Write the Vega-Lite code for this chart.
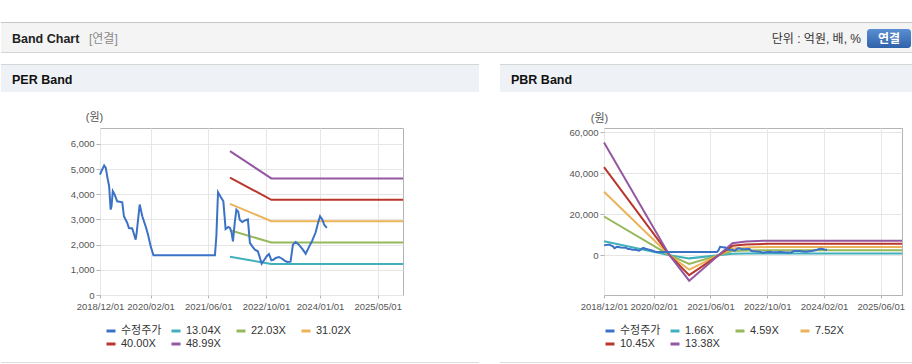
{
  "$schema": "https://vega.github.io/schema/vega-lite/v6.json",
  "background": "white",
  "padding": {"left": 0, "top": 22, "right": 0, "bottom": 0},
  "config": {
    "font": "Liberation Sans, Noto Sans CJK KR, sans-serif",
    "view": {"stroke": null},
    "axis": {"labelColor": "#555555", "labelFontSize": 9.5, "gridColor": "#e6e6e6", "tickColor": "#b4b4b4", "domain": false, "titleFontWeight": "normal", "titleColor": "#555555", "titleFontSize": 11}
  },
  "data": {"values": [{}]},
  "datasets": {
    "price": [
      {"series": "수정주가", "date": "2018-12-01", "value": 4780},
      {"series": "수정주가", "date": "2018-12-12", "value": 4910},
      {"series": "수정주가", "date": "2019-01-05", "value": 5140},
      {"series": "수정주가", "date": "2019-01-19", "value": 5046},
      {"series": "수정주가", "date": "2019-02-02", "value": 4650},
      {"series": "수정주가", "date": "2019-02-16", "value": 4318},
      {"series": "수정주가", "date": "2019-03-01", "value": 3390},
      {"series": "수정주가", "date": "2019-03-08", "value": 3520},
      {"series": "수정주가", "date": "2019-03-19", "value": 4120},
      {"series": "수정주가", "date": "2019-04-03", "value": 3990},
      {"series": "수정주가", "date": "2019-04-25", "value": 3720},
      {"series": "수정주가", "date": "2019-06-07", "value": 3680},
      {"series": "수정주가", "date": "2019-06-21", "value": 3125},
      {"series": "수정주가", "date": "2019-07-19", "value": 2860},
      {"series": "수정주가", "date": "2019-08-02", "value": 2660},
      {"series": "수정주가", "date": "2019-08-30", "value": 2640},
      {"series": "수정주가", "date": "2019-09-28", "value": 2200},
      {"series": "수정주가", "date": "2019-10-06", "value": 2460},
      {"series": "수정주가", "date": "2019-11-01", "value": 3590},
      {"series": "수정주가", "date": "2019-11-23", "value": 3125},
      {"series": "수정주가", "date": "2019-12-21", "value": 2730},
      {"series": "수정주가", "date": "2020-01-10", "value": 2400},
      {"series": "수정주가", "date": "2020-02-02", "value": 1930},
      {"series": "수정주가", "date": "2020-02-25", "value": 1576},
      {"series": "수정주가", "date": "2021-07-28", "value": 1576},
      {"series": "수정주가", "date": "2021-08-09", "value": 2330},
      {"series": "수정주가", "date": "2021-08-23", "value": 4080},
      {"series": "수정주가", "date": "2021-09-15", "value": 3890},
      {"series": "수정주가", "date": "2021-10-07", "value": 3720},
      {"series": "수정주가", "date": "2021-10-26", "value": 2620},
      {"series": "수정주가", "date": "2021-11-18", "value": 2700},
      {"series": "수정주가", "date": "2021-12-02", "value": 2660},
      {"series": "수정주가", "date": "2021-12-16", "value": 2460},
      {"series": "수정주가", "date": "2021-12-27", "value": 2130},
      {"series": "수정주가", "date": "2022-01-11", "value": 2860},
      {"series": "수정주가", "date": "2022-01-25", "value": 3390},
      {"series": "수정주가", "date": "2022-02-09", "value": 3320},
      {"series": "수정주가", "date": "2022-02-22", "value": 2990},
      {"series": "수정주가", "date": "2022-03-15", "value": 2900},
      {"series": "수정주가", "date": "2022-04-13", "value": 2970},
      {"series": "수정주가", "date": "2022-05-02", "value": 3000},
      {"series": "수정주가", "date": "2022-05-19", "value": 2070},
      {"series": "수정주가", "date": "2022-06-08", "value": 1930},
      {"series": "수정주가", "date": "2022-06-30", "value": 1800},
      {"series": "수정주가", "date": "2022-07-25", "value": 1735},
      {"series": "수정주가", "date": "2022-08-12", "value": 1470},
      {"series": "수정주가", "date": "2022-08-26", "value": 1245},
      {"series": "수정주가", "date": "2022-09-15", "value": 1380},
      {"series": "수정주가", "date": "2022-10-08", "value": 1540},
      {"series": "수정주가", "date": "2022-10-27", "value": 1630},
      {"series": "수정주가", "date": "2022-11-16", "value": 1380},
      {"series": "수정주가", "date": "2022-12-03", "value": 1400},
      {"series": "수정주가", "date": "2022-12-22", "value": 1470},
      {"series": "수정주가", "date": "2023-01-20", "value": 1510},
      {"series": "수정주가", "date": "2023-02-18", "value": 1430},
      {"series": "수정주가", "date": "2023-03-07", "value": 1365},
      {"series": "수정주가", "date": "2023-03-30", "value": 1310},
      {"series": "수정주가", "date": "2023-04-27", "value": 1325},
      {"series": "수정주가", "date": "2023-05-17", "value": 2000},
      {"series": "수정주가", "date": "2023-06-09", "value": 2105},
      {"series": "수정주가", "date": "2023-07-06", "value": 2000},
      {"series": "수정주가", "date": "2023-08-04", "value": 1830},
      {"series": "수정주가", "date": "2023-09-02", "value": 1640},
      {"series": "수정주가", "date": "2023-09-30", "value": 1910},
      {"series": "수정주가", "date": "2023-10-28", "value": 2170},
      {"series": "수정주가", "date": "2023-11-25", "value": 2490},
      {"series": "수정주가", "date": "2023-12-15", "value": 2860},
      {"series": "수정주가", "date": "2024-01-01", "value": 3125},
      {"series": "수정주가", "date": "2024-01-21", "value": 2990},
      {"series": "수정주가", "date": "2024-02-04", "value": 2795},
      {"series": "수정주가", "date": "2024-02-27", "value": 2660}
    ],
    "perBand": [
      {"series": "13.04X", "date": "2021-12-02", "value": 1520},
      {"series": "13.04X", "date": "2022-11-16", "value": 1232},
      {"series": "13.04X", "date": "2025-12-01", "value": 1232},
      {"series": "22.03X", "date": "2021-12-02", "value": 2569},
      {"series": "22.03X", "date": "2022-11-16", "value": 2082},
      {"series": "22.03X", "date": "2025-12-01", "value": 2082},
      {"series": "31.02X", "date": "2021-12-02", "value": 3617},
      {"series": "31.02X", "date": "2022-11-16", "value": 2931},
      {"series": "31.02X", "date": "2025-12-01", "value": 2931},
      {"series": "40.00X", "date": "2021-12-02", "value": 4664},
      {"series": "40.00X", "date": "2022-11-16", "value": 3780},
      {"series": "40.00X", "date": "2025-12-01", "value": 3780},
      {"series": "48.99X", "date": "2021-12-02", "value": 5712},
      {"series": "48.99X", "date": "2022-11-16", "value": 4630},
      {"series": "48.99X", "date": "2025-12-01", "value": 4630}
    ],
    "pbrBand": [
      {"series": "1.66X", "date": "2018-12-01", "value": 6823},
      {"series": "1.66X", "date": "2020-06-15", "value": 0},
      {"series": "1.66X", "date": "2020-12-01", "value": -1544},
      {"series": "1.66X", "date": "2021-12-07", "value": 725},
      {"series": "1.66X", "date": "2022-04-01", "value": 830},
      {"series": "1.66X", "date": "2022-10-01", "value": 880},
      {"series": "1.66X", "date": "2025-12-01", "value": 880},
      {"series": "4.59X", "date": "2018-12-01", "value": 18865},
      {"series": "4.59X", "date": "2020-06-15", "value": 0},
      {"series": "4.59X", "date": "2020-12-01", "value": -4269},
      {"series": "4.59X", "date": "2021-12-07", "value": 2006},
      {"series": "4.59X", "date": "2022-04-01", "value": 2295},
      {"series": "4.59X", "date": "2022-10-01", "value": 2433},
      {"series": "4.59X", "date": "2025-12-01", "value": 2433},
      {"series": "7.52X", "date": "2018-12-01", "value": 30907},
      {"series": "7.52X", "date": "2020-06-15", "value": 0},
      {"series": "7.52X", "date": "2020-12-01", "value": -6994},
      {"series": "7.52X", "date": "2021-12-07", "value": 3286},
      {"series": "7.52X", "date": "2022-04-01", "value": 3760},
      {"series": "7.52X", "date": "2022-10-01", "value": 3986},
      {"series": "7.52X", "date": "2025-12-01", "value": 3986},
      {"series": "10.45X", "date": "2018-12-01", "value": 42950},
      {"series": "10.45X", "date": "2020-06-15", "value": 0},
      {"series": "10.45X", "date": "2020-12-01", "value": -9719},
      {"series": "10.45X", "date": "2021-12-07", "value": 4567},
      {"series": "10.45X", "date": "2022-04-01", "value": 5225},
      {"series": "10.45X", "date": "2022-10-01", "value": 5539},
      {"series": "10.45X", "date": "2025-12-01", "value": 5539},
      {"series": "13.38X", "date": "2018-12-01", "value": 54992},
      {"series": "13.38X", "date": "2020-06-15", "value": 0},
      {"series": "13.38X", "date": "2020-12-01", "value": -12443},
      {"series": "13.38X", "date": "2021-12-07", "value": 5847},
      {"series": "13.38X", "date": "2022-04-01", "value": 6690},
      {"series": "13.38X", "date": "2022-10-01", "value": 7091},
      {"series": "13.38X", "date": "2025-12-01", "value": 7091}
    ]
  },
  "columns": 7,
  "spacing": 0,
  "bounds": "flush",
  "align": "each",
  "resolve": {"scale": {"color": "independent"}, "legend": {"color": "independent"}},
  "concat": [
    {"width": 99, "height": 31, "view": {"fill": "#f4f4f4", "stroke": null}, "layer": [
      {"mark": {"type": "rule", "color": "#c6c6c6"}, "encoding": {"y": {"value": 0.5}}},
      {"mark": {"type": "rule", "color": "#d4d4d4"}, "encoding": {"y": {"value": 30.5}}},
      {"mark": {"type": "text", "text": "Band Chart", "fontWeight": "bold", "fontSize": 12.5, "align": "left", "baseline": "middle", "color": "#222222"}, "encoding": {"x": {"value": 11}, "y": {"value": 17}}}
    ]},
    {"width": 303, "height": 31, "view": {"fill": "#f4f4f4", "stroke": null}, "layer": [
      {"mark": {"type": "rule", "color": "#c6c6c6"}, "encoding": {"y": {"value": 0.5}}},
      {"mark": {"type": "rule", "color": "#d4d4d4"}, "encoding": {"y": {"value": 30.5}}},
      {"mark": {"type": "text", "text": "[연결]", "fontSize": 12, "align": "left", "baseline": "middle", "color": "#8a8a8a"}, "encoding": {"x": {"value": -11}, "y": {"value": 17}}}
    ]},
    {"width": 76, "height": 31, "view": {"fill": "#f4f4f4", "stroke": null}, "layer": [
      {"mark": {"type": "rule", "color": "#c6c6c6"}, "encoding": {"y": {"value": 0.5}}},
      {"mark": {"type": "rule", "color": "#d4d4d4"}, "encoding": {"y": {"value": 30.5}}}
    ]},
    {"width": 21, "height": 31, "view": {"fill": "#f4f4f4", "stroke": null}, "layer": [
      {"mark": {"type": "rule", "color": "#c6c6c6"}, "encoding": {"y": {"value": 0.5}}},
      {"mark": {"type": "rule", "color": "#d4d4d4"}, "encoding": {"y": {"value": 30.5}}}
    ]},
    {"width": 104, "height": 31, "view": {"fill": "#f4f4f4", "stroke": null}, "layer": [
      {"mark": {"type": "rule", "color": "#c6c6c6"}, "encoding": {"y": {"value": 0.5}}},
      {"mark": {"type": "rule", "color": "#d4d4d4"}, "encoding": {"y": {"value": 30.5}}}
    ]},
    {"width": 298, "height": 31, "view": {"fill": "#f4f4f4", "stroke": null}, "layer": [
      {"mark": {"type": "rule", "color": "#c6c6c6"}, "encoding": {"y": {"value": 0.5}}},
      {"mark": {"type": "rule", "color": "#d4d4d4"}, "encoding": {"y": {"value": 30.5}}},
      {"mark": {"type": "text", "text": "단위 : 억원, 배, %", "fontSize": 12, "align": "right", "baseline": "middle", "color": "#333333"}, "encoding": {"x": {"value": 257}, "y": {"value": 17}}}
    ]},
    {"width": 11, "height": 31, "view": {"fill": "#f4f4f4", "stroke": null}, "layer": [
      {"mark": {"type": "rule", "color": "#c6c6c6"}, "encoding": {"y": {"value": 0.5}}},
      {"mark": {"type": "rule", "color": "#d4d4d4"}, "encoding": {"y": {"value": 30.5}}},
      {"mark": {"type": "rect", "cornerRadius": 3, "color": {"gradient": "linear", "x1": 0, "y1": 0, "x2": 0, "y2": 1, "stops": [{"offset": 0, "color": "#5b8fd3"}, {"offset": 1, "color": "#2f62a8"}]}}, "encoding": {"x": {"value": -35}, "x2": {"value": 9}, "y": {"value": 7}, "y2": {"value": 26}}},
      {"mark": {"type": "text", "text": "연결", "fontSize": 12, "fontWeight": "bold", "align": "center", "baseline": "middle", "color": "white"}, "encoding": {"x": {"value": -13}, "y": {"value": 17}}}
    ]},

    {"width": 1, "height": 11, "mark": {"type": "text", "text": ""}},
    {"width": 1, "height": 1, "mark": {"type": "text", "text": ""}},
    {"width": 1, "height": 1, "mark": {"type": "text", "text": ""}},
    {"width": 1, "height": 1, "mark": {"type": "text", "text": ""}},
    {"width": 1, "height": 1, "mark": {"type": "text", "text": ""}},
    {"width": 1, "height": 1, "mark": {"type": "text", "text": ""}},
    {"width": 1, "height": 1, "mark": {"type": "text", "text": ""}},

    {"width": 99, "height": 28, "view": {"fill": "#eef2f7", "stroke": null}, "layer": [
      {"mark": {"type": "rule", "color": "#d6d6d6"}, "encoding": {"y": {"value": 0.5}}},
      {"mark": {"type": "text", "text": "PER Band", "fontWeight": "bold", "fontSize": 12.5, "align": "left", "baseline": "middle", "color": "#111111"}, "encoding": {"x": {"value": 11}, "y": {"value": 16}}}
    ]},
    {"width": 303, "height": 28, "view": {"fill": "#eef2f7", "stroke": null}, "layer": [
      {"mark": {"type": "rule", "color": "#d6d6d6"}, "encoding": {"y": {"value": 0.5}}}
    ]},
    {"width": 76, "height": 28, "view": {"fill": "#eef2f7", "stroke": null}, "layer": [
      {"mark": {"type": "rule", "color": "#d6d6d6"}, "encoding": {"y": {"value": 0.5}}}
    ]},
    {"width": 21, "height": 28, "mark": {"type": "text", "text": ""}},
    {"width": 104, "height": 28, "view": {"fill": "#eef2f7", "stroke": null}, "layer": [
      {"mark": {"type": "rule", "color": "#d6d6d6"}, "encoding": {"y": {"value": 0.5}}},
      {"mark": {"type": "text", "text": "PBR Band", "fontWeight": "bold", "fontSize": 12.5, "align": "left", "baseline": "middle", "color": "#111111"}, "encoding": {"x": {"value": 11}, "y": {"value": 16}}}
    ]},
    {"width": 298, "height": 28, "view": {"fill": "#eef2f7", "stroke": null}, "layer": [
      {"mark": {"type": "rule", "color": "#d6d6d6"}, "encoding": {"y": {"value": 0.5}}}
    ]},
    {"width": 11, "height": 28, "view": {"fill": "#eef2f7", "stroke": null}, "layer": [
      {"mark": {"type": "rule", "color": "#d6d6d6"}, "encoding": {"y": {"value": 0.5}}}
    ]},

    {"width": 1, "height": 36, "mark": {"type": "text", "text": ""}},
    {"width": 1, "height": 1, "mark": {"type": "text", "text": ""}},
    {"width": 1, "height": 1, "mark": {"type": "text", "text": ""}},
    {"width": 1, "height": 1, "mark": {"type": "text", "text": ""}},
    {"width": 1, "height": 1, "mark": {"type": "text", "text": ""}},
    {"width": 1, "height": 1, "mark": {"type": "text", "text": ""}},
    {"width": 1, "height": 1, "mark": {"type": "text", "text": ""}},

    {"width": 1, "height": 1, "mark": {"type": "text", "text": ""}},
    {
      "width": 303, "height": 167,
      "view": {"stroke": "#b4b4b4", "fill": "white"},
      "encoding": {
        "x": {"field": "date", "type": "temporal", "title": null,
          "scale": {"type": "utc", "domain": [{"year": 2018, "month": 12, "date": 1, "utc": true}, {"year": 2025, "month": 12, "date": 1, "utc": true}]},
          "axis": {"values": [{"year": 2018, "month": 12, "date": 1, "utc": true}, {"year": 2020, "month": 2, "date": 1, "utc": true}, {"year": 2021, "month": 6, "date": 1, "utc": true}, {"year": 2022, "month": 10, "date": 1, "utc": true}, {"year": 2024, "month": 1, "date": 1, "utc": true}, {"year": 2025, "month": 5, "date": 1, "utc": true}], "format": "%Y/%m/%d", "labelPadding": 3, "tickSize": 3, "labelFlush": false, "labelOverlap": false}},
        "y": {"field": "value", "type": "quantitative", "title": "(원)",
          "scale": {"domain": [0, 6630], "nice": false, "zero": false},
          "axis": {"values": [0, 1000, 2000, 3000, 4000, 5000, 6000], "format": ",d", "titleAngle": 0, "titleX": -6, "titleY": -11, "titleAlign": "center", "titleBaseline": "middle", "tickSize": 4, "labelPadding": 2}},
        "color": {"field": "series", "type": "nominal",
          "scale": {"domain": ["수정주가", "13.04X", "22.03X", "31.02X", "40.00X", "48.99X"], "range": ["#3b72c6", "#3fb0bc", "#96b75a", "#ebb35a", "#b9362b", "#9457a1"]},
          "legend": {"title": null, "orient": "none", "legendX": 5, "legendY": 197, "direction": "horizontal", "columns": 4, "symbolType": "stroke", "symbolSize": 81, "symbolStrokeWidth": 3, "labelFontSize": 11, "labelColor": "#333333", "gridAlign": "all", "columnPadding": 3, "rowPadding": 1, "labelOffset": 4}}
      },
      "layer": [
        {"data": {"name": "perBand"}, "mark": {"type": "line", "strokeWidth": 2}},
        {"data": {"name": "price"}, "mark": {"type": "line", "strokeWidth": 2}}
      ]
    },
    {"width": 1, "height": 1, "mark": {"type": "text", "text": ""}},
    {"width": 1, "height": 1, "mark": {"type": "text", "text": ""}},
    {"width": 1, "height": 1, "mark": {"type": "text", "text": ""}},
    {
      "width": 298, "height": 167,
      "view": {"stroke": "#b4b4b4", "fill": "white"},
      "encoding": {
        "x": {"field": "date", "type": "temporal", "title": null,
          "scale": {"type": "utc", "domain": [{"year": 2018, "month": 12, "date": 1, "utc": true}, {"year": 2025, "month": 12, "date": 1, "utc": true}]},
          "axis": {"values": [{"year": 2018, "month": 12, "date": 1, "utc": true}, {"year": 2020, "month": 2, "date": 1, "utc": true}, {"year": 2021, "month": 6, "date": 1, "utc": true}, {"year": 2022, "month": 10, "date": 1, "utc": true}, {"year": 2024, "month": 2, "date": 1, "utc": true}, {"year": 2025, "month": 6, "date": 1, "utc": true}], "format": "%Y/%m/%d", "labelPadding": 3, "tickSize": 3, "labelFlush": false, "labelOverlap": false}},
        "y": {"field": "value", "type": "quantitative", "title": "(원)",
          "scale": {"domain": [-19400, 62000], "nice": false, "zero": false},
          "axis": {"values": [0, 20000, 40000, 60000], "format": ",d", "titleAngle": 0, "titleX": -5, "titleY": -10, "titleAlign": "center", "titleBaseline": "middle", "tickSize": 4, "labelPadding": 2}},
        "color": {"field": "series", "type": "nominal",
          "scale": {"domain": ["수정주가", "1.66X", "4.59X", "7.52X", "10.45X", "13.38X"], "range": ["#3b72c6", "#3fb0bc", "#96b75a", "#ebb35a", "#b9362b", "#9457a1"]},
          "legend": {"title": null, "orient": "none", "legendX": 0, "legendY": 197, "direction": "horizontal", "columns": 4, "symbolType": "stroke", "symbolSize": 81, "symbolStrokeWidth": 3, "labelFontSize": 11, "labelColor": "#333333", "gridAlign": "all", "columnPadding": 3, "rowPadding": 1, "labelOffset": 4}}
      },
      "layer": [
        {"data": {"name": "pbrBand"}, "mark": {"type": "line", "strokeWidth": 2}},
        {"data": {"name": "price"}, "mark": {"type": "line", "strokeWidth": 2}}
      ]
    },
    {"width": 1, "height": 1, "mark": {"type": "text", "text": ""}},

    {"width": 1, "height": 67, "mark": {"type": "text", "text": ""}},
    {"width": 1, "height": 1, "mark": {"type": "text", "text": ""}},
    {"width": 1, "height": 1, "mark": {"type": "text", "text": ""}},
    {"width": 1, "height": 1, "mark": {"type": "text", "text": ""}},
    {"width": 1, "height": 1, "mark": {"type": "text", "text": ""}},
    {"width": 1, "height": 1, "mark": {"type": "text", "text": ""}},
    {"width": 1, "height": 1, "mark": {"type": "text", "text": ""}},

    {"width": 99, "height": 1, "view": {"fill": "#dddddd", "stroke": null}, "mark": {"type": "text", "text": ""}},
    {"width": 303, "height": 1, "view": {"fill": "#dddddd", "stroke": null}, "mark": {"type": "text", "text": ""}},
    {"width": 76, "height": 1, "view": {"fill": "#dddddd", "stroke": null}, "mark": {"type": "text", "text": ""}},
    {"width": 21, "height": 1, "mark": {"type": "text", "text": ""}},
    {"width": 104, "height": 1, "view": {"fill": "#dddddd", "stroke": null}, "mark": {"type": "text", "text": ""}},
    {"width": 298, "height": 1, "view": {"fill": "#dddddd", "stroke": null}, "mark": {"type": "text", "text": ""}},
    {"width": 11, "height": 1, "view": {"fill": "#dddddd", "stroke": null}, "mark": {"type": "text", "text": ""}}
  ]
}
